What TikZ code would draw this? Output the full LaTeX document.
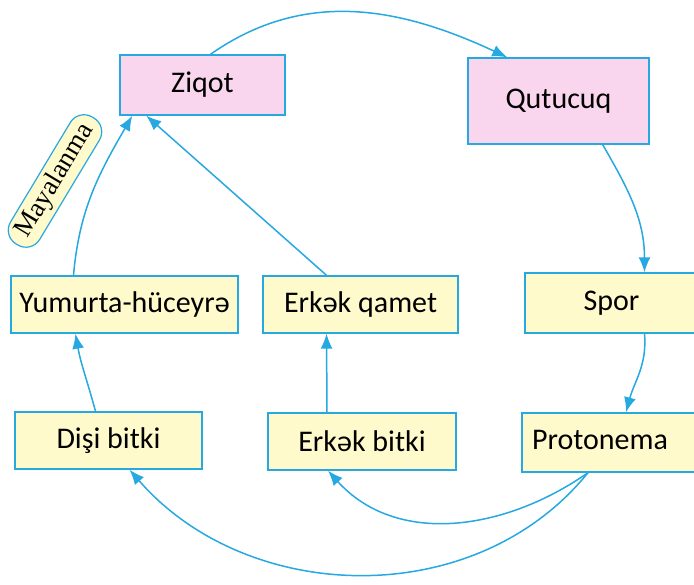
\documentclass[tikz,border=0pt]{standalone}
\usepackage{fontspec}
\setmainfont{Carlito}
\newfontfamily\mayafont{Liberation Serif}
\usetikzlibrary{arrows.meta}
\definecolor{lineblue}{RGB}{38,168,225}
\definecolor{boxyellow}{RGB}{255,250,204}
\definecolor{boxpink}{RGB}{250,214,238}

\begin{document}
\begin{tikzpicture}[x=1pt,y=1pt,
        stagebox/.style={draw=lineblue,line width=1.4pt,fill=boxyellow,minimum width=#1,
            minimum height=57pt,inner sep=0pt,font=\fontsize{30}{33}\selectfont},
        pinkbox/.style={stagebox=#1,fill=boxpink},
        flow/.style={draw=lineblue,line width=1.5pt,-{Latex[length=15pt,width=12pt]}}]
        \useasboundingbox (0,0) rectangle (694,585);
        \node[pinkbox=165pt,minimum height=60pt] (ziqot) at (202.5,500) {Ziqot};
        \node[pinkbox=181pt,minimum height=86pt] (qutucuq) at (558.5,484) {\raisebox{3pt}{Qutucuq}};
        \node[stagebox=173pt,minimum height=60pt] (spor) at (611.5,282) {Spor};
        \node[stagebox=176pt,minimum height=59pt] (protonema) at (610,142.5) {\raisebox{6pt}{Protonema}\hspace*{20pt}};
        \node[stagebox=188pt] (erkbitki) at (362,143.5) {Erkək bitki};
        \node[stagebox=195pt] (erkqamet) at (360.5,280.5) {Erkək qamet};
        \node[stagebox=227pt] (yumurta) at (124.5,280.5) {Yumurta-hüceyrə};
        \node[stagebox=187pt] (disi) at (108.5,144.5) {Dişi bitki};
        \node[draw=lineblue,line width=1.2pt,fill=boxyellow,rounded corners=16pt,rotate=59,
            minimum width=148pt,minimum height=34pt,inner sep=0pt,
            font=\mayafont\fontsize{27}{29}\selectfont] (maya) at (55,404) {Mayalanma};

        \draw[flow] ([xshift=8pt]ziqot.north) to[out=35,in=155] ([xshift=40pt]qutucuq.north west);
        \draw[flow] ([xshift=-47pt]qutucuq.south east) to[out=-60,in=90] ([xshift=33pt]spor.north);
        \draw[flow] ([xshift=33pt]spor.south) to[out=-85,in=75] ([xshift=16pt]protonema.north);
        \draw[flow] ([xshift=-22pt]protonema.south) to[out=-145,in=-48] ([xshift=-34pt]erkbitki.south);
        \draw[flow] ([xshift=-22pt]protonema.south) to[out=-129,in=-49] ([xshift=21pt]disi.south);
        \draw[flow] ([xshift=-13pt]disi.north) to[out=105,in=-80] ([xshift=-49pt]yumurta.south);
        \draw[flow] ([xshift=-51pt]yumurta.north) to[out=85,in=-120] ([xshift=13pt]ziqot.south west);
        \draw[flow] ([xshift=-35pt]erkbitki.north) -- ([xshift=-34pt]erkqamet.south);
        \draw[flow] ([xshift=-34pt]erkqamet.north) -- ([xshift=27pt]ziqot.south west);
\end{tikzpicture}
\end{document}
